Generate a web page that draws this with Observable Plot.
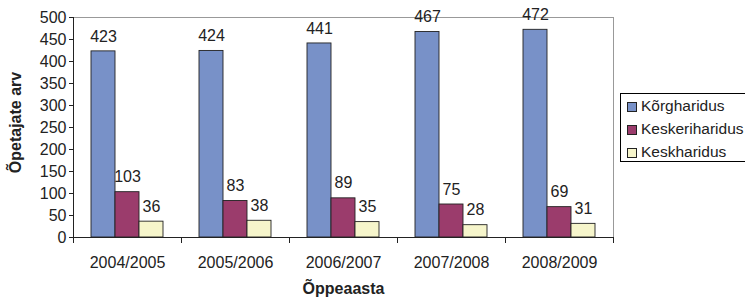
<!DOCTYPE html>
<html>
<head>
<meta charset="utf-8">
<script src="https://cdn.jsdelivr.net/npm/d3@7"></script>
<script src="https://cdn.jsdelivr.net/npm/@observablehq/plot@0.6"></script>
<style>
  html, body { margin: 0; padding: 0; background: #fff; }
  #wrap { position: relative; width: 745px; height: 301px; overflow: hidden; font-family: "Liberation Sans", Arial, sans-serif; }
  #legend { position: absolute; left: 620px; top: 93px; width: 132px; height: 69px; border: 1px solid #000; box-sizing: border-box; background: #fff; }
  .item { position: absolute; left: 6px; font-size: 15.5px; color: #222; line-height: 16px; white-space: nowrap; }
  .sw { display: inline-block; width: 10px; height: 10px; border: 1px solid #222; vertical-align: -1px; margin-right: 4px; box-sizing: border-box; }
</style>
</head>
<body>
<div id="wrap"></div>
<script>
const years = ["2004/2005", "2005/2006", "2006/2007", "2007/2008", "2008/2009"];
const series = ["Kõrgharidus", "Keskeriharidus", "Keskharidus"];
const korgharidus = [423, 424, 441, 467, 472];
const keskeriharidus = [103, 83, 89, 75, 69];
const keskharidus = [36, 38, 35, 28, 31];
const colors = ["#7891C8", "#9B3C6C", "#F6F5CB"];
const yTicks = [0, 50, 100, 150, 200, 250, 300, 350, 400, 450, 500];

const values = [korgharidus, keskeriharidus, keskharidus];
const data = [];
years.forEach((yr, i) => series.forEach((s, j) => data.push({year: yr, series: s, value: values[j][i]})));

const chart = Plot.plot({
  width: 745,
  height: 301,
  marginLeft: 73,
  marginRight: 132,
  marginTop: 17,
  marginBottom: 64,
  style: {fontFamily: "'Liberation Sans', Arial, sans-serif", fontSize: "16px", color: "#222", background: "#fff"},
  fx: {domain: years, paddingInner: 0, paddingOuter: 0, label: null},
  x: {domain: series, paddingInner: 0, paddingOuter: 0.75, axis: null},
  y: {domain: [0, 500], label: null},
  color: {domain: series, range: colors},
  marks: [
    Plot.frame({facet: "super", stroke: "#999"}),
    Plot.barY(data, {fx: "year", x: "series", y: "value", fill: "series", stroke: "#222", strokeWidth: 0.9}),
    Plot.text(data, {fx: "year", x: "series", y: "value", text: "value", dy: -15, fontSize: 16, fill: "#222"}),
    Plot.frame({anchor: "left", facet: "super", stroke: "#222"}),
    Plot.frame({anchor: "bottom", facet: "super", stroke: "#222"}),
    Plot.frame({anchor: "left", stroke: "#222", insetTop: 220, insetBottom: -5}),
    Plot.frame({anchor: "right", stroke: "#222", insetTop: 220, insetBottom: -5}),
    Plot.axisY({ticks: yTicks, tickSize: 4, tickPadding: 3, fontSize: 16, label: null, tickFormat: d => d}),
    Plot.axisFx({anchor: "bottom", tickSize: 0, tickPadding: 19, fontSize: 16, label: null}),
    Plot.text(["Õppeaasta"], {facet: "super", frameAnchor: "bottom", dy: 56, fontWeight: "bold", fontSize: 16, fill: "#222"}),
    Plot.text(["Õpetajate arv"], {facet: "super", frameAnchor: "left", textAnchor: "middle", rotate: -90, dx: -58, dy: -5, fontWeight: "bold", fontSize: 16, fill: "#222"})
  ]
});

const wrap = document.getElementById("wrap");
wrap.appendChild(chart);
const legend = document.createElement("div");
legend.id = "legend";
series.forEach((s, j) => {
  const it = document.createElement("div");
  it.className = "item";
  it.style.top = (4 + j * 23) + "px";
  it.innerHTML = `<span class="sw" style="background:${colors[j]}"></span>${s}`;
  legend.appendChild(it);
});
wrap.appendChild(legend);
</script>
</body>
</html>
